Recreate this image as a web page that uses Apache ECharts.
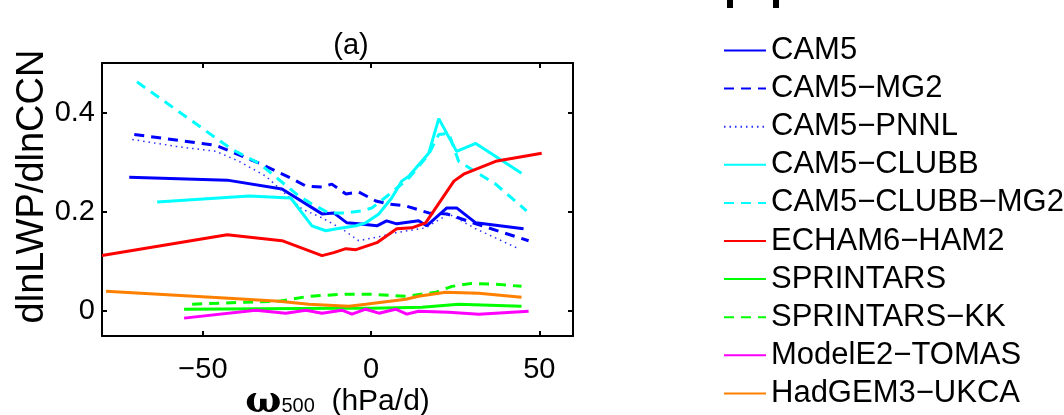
<!DOCTYPE html>
<html>
<head>
<meta charset="utf-8">
<script src="https://cdn.jsdelivr.net/npm/echarts@6/dist/echarts.min.js"></script>
<style>
  html, body { margin: 0; padding: 0; background: #fff; }
  #chart { width: 1064px; height: 415px; }
</style>
</head>
<body>
<div id="chart"></div>
<script>
// omega500 (hPa/d) vs dlnLWP/dlnCCN, one [x, y] list per model
const cam5 = [[-71.9, 0.270], [-42.8, 0.264], [-26.5, 0.246], [-14.6, 0.196], [-11.1, 0.198],
  [-7.2, 0.178], [-3.7, 0.176], [1.7, 0.172], [4.6, 0.182], [7.6, 0.176], [14.1, 0.182],
  [16.5, 0.172], [22.5, 0.208], [25.4, 0.208], [31.1, 0.178], [45.3, 0.166]];
const cam5Mg2 = [[-70.4, 0.356], [-46.1, 0.334], [-33.3, 0.298], [-23.8, 0.268], [-19.4, 0.252],
  [-14.6, 0.250], [-11.7, 0.256], [-7.5, 0.236], [-3.7, 0.240], [1.4, 0.222], [5.3, 0.216],
  [10.3, 0.212], [17.1, 0.198], [22.5, 0.196], [31.1, 0.176], [46.8, 0.142]];
const cam5Pnnl = [[-71.0, 0.346], [-58.0, 0.332], [-46.1, 0.322], [-39.3, 0.302], [-31.3, 0.272],
  [-20.6, 0.206], [-14.6, 0.188], [-8.7, 0.166], [-3.7, 0.142], [2.3, 0.150], [7.3, 0.158],
  [16.2, 0.168], [23.1, 0.196], [31.1, 0.166], [43.8, 0.126]];
const cam5Clubb = [[-63.6, 0.220], [-36.3, 0.232], [-23.9, 0.228], [-17.6, 0.172], [-13.5, 0.162],
  [-10.2, 0.166], [-4.5, 0.172], [-1.6, 0.178], [2.3, 0.196], [6.1, 0.228], [9.1, 0.262],
  [11.2, 0.272], [17.1, 0.318], [20.1, 0.388], [25.4, 0.322], [31.1, 0.338], [44.7, 0.278]];
const cam5ClubbMg2 = [[-69.6, 0.462], [-41.4, 0.326], [-33.3, 0.298], [-21.5, 0.232], [-17.6, 0.216],
  [-12.6, 0.198], [-7.5, 0.198], [-2.8, 0.202], [0.2, 0.208], [4.4, 0.230], [11.2, 0.268],
  [17.1, 0.316], [20.1, 0.356], [23.1, 0.358], [26.0, 0.302], [37.0, 0.256], [46.2, 0.202]];
const echamHam2 = [[-80.0, 0.112], [-42.8, 0.154], [-26.5, 0.142], [-14.6, 0.112], [-11.1, 0.118],
  [-7.5, 0.126], [-4.5, 0.124], [1.7, 0.138], [7.6, 0.166], [12.1, 0.168], [16.2, 0.178],
  [24.6, 0.262], [27.5, 0.276], [37.0, 0.302], [50.7, 0.318]];
const sprintars = [[-55.6, 0.004], [-9.6, 0.006], [0.2, 0.006], [15.1, 0.008], [26.0, 0.014], [44.7, 0.010]];
const sprintarsKk = [[-53.2, 0.014], [-37.2, 0.018], [-27.4, 0.020], [-18.5, 0.030], [-8.7, 0.034],
  [0.2, 0.034], [10.3, 0.030], [19.2, 0.038], [24.0, 0.050], [29.9, 0.056], [37.9, 0.054], [44.7, 0.050]];
const modelE2Tomas = [[-55.6, -0.014], [-34.3, 0.002], [-25.4, -0.004], [-19.4, 0.002], [-14.6, -0.004],
  [-8.7, 0.002], [-5.7, -0.006], [-1.6, 0.004], [2.3, -0.004], [7.3, 0.004], [10.6, -0.006],
  [14.1, 0.000], [23.1, -0.002], [32.0, -0.006], [46.8, 0.000]];
const hadgem3Ukca = [[-78.8, 0.040], [-42.3, 0.026], [-27.4, 0.020], [-18.5, 0.014], [-6.6, 0.010],
  [-1.6, 0.014], [10.3, 0.024], [14.1, 0.030], [22.1, 0.038], [32.0, 0.036], [44.7, 0.028]];

const xTicks = [-50, 0, 50];
const yTicks = [0, 0.2, 0.4];

const models = [
  { name: 'CAM5', data: cam5, color: '#0000ff', type: 'solid', width: 3 },
  { name: 'CAM5−MG2', data: cam5Mg2, color: '#0000ff', type: [10, 7], width: 3 },
  { name: 'CAM5−PNNL', data: cam5Pnnl, color: '#2b2bff', type: [1.5, 4], width: 1.5 },
  { name: 'CAM5−CLUBB', data: cam5Clubb, color: '#00ffff', type: 'solid', width: 3 },
  { name: 'CAM5−CLUBB−MG2', data: cam5ClubbMg2, color: '#00ffff', type: [10, 7], width: 3 },
  { name: 'ECHAM6−HAM2', data: echamHam2, color: '#ff0000', type: 'solid', width: 3 },
  { name: 'SPRINTARS', data: sprintars, color: '#00ff00', type: 'solid', width: 3 },
  { name: 'SPRINTARS−KK', data: sprintarsKk, color: '#00ff00', type: [10, 7], width: 3 },
  { name: 'ModelE2−TOMAS', data: modelE2Tomas, color: '#ff00ff', type: 'solid', width: 3 },
  { name: 'HadGEM3−UKCA', data: hadgem3Ukca, color: '#ff8000', type: 'solid', width: 3 },
];

const chart = echarts.init(document.getElementById('chart'));
const font = 'Liberation Sans, Arial, sans-serif';

const frameLine = { show: true, onZero: false, lineStyle: { color: '#000', width: 2 } };
const inTick = { show: true, inside: true, length: 5, lineStyle: { color: '#000', width: 2 } };

chart.setOption({
  animation: false,
  backgroundColor: '#fff',
  textStyle: { fontFamily: font },
  grid: { left: 102, top: 63, right: 491, bottom: 79, outerBoundsMode: 'none', containLabel: false },
  graphic: [
    { type: 'text', x: 351, y: 46, style: { text: '(a)', font: '29px ' + font, fill: '#000',
      align: 'center', verticalAlign: 'middle' } },
    { type: 'rect', shape: { x: 727, y: 0, width: 6, height: 8 }, style: { fill: '#000' } },
    { type: 'rect', shape: { x: 773, y: 0, width: 6, height: 8 }, style: { fill: '#000' } },
  ],
  legend: {
    orient: 'vertical',
    left: 723,
    top: 35,
    padding: 0,
    height: 400,
    itemWidth: 42,
    itemHeight: 14,
    itemGap: 7.1,
    itemStyle: { opacity: 0 },
    textStyle: { fontSize: 31, lineHeight: 30, color: '#000', fontFamily: font },
    data: models.map(m => m.name),
  },
  xAxis: [
    {
      type: 'value', min: -80, max: 60, position: 'bottom',
      axisLine: frameLine,
      axisTick: Object.assign({ customValues: xTicks }, inTick),
      axisLabel: { customValues: xTicks, color: '#000', fontSize: 29, margin: 19,
        formatter: v => (v < 0 ? '−' + Math.abs(v) : String(v)) },
      splitLine: { show: false },
      name: '{w|ω}{s|500}{n|  (hPa/d)}',
      nameLocation: 'middle',
      nameMoveOverlap: false,
      nameGap: 47,
      nameTextStyle: {
        rich: {
          w: { fontFamily: 'DejaVu Serif, serif', fontWeight: 'bold', fontSize: 38, color: '#000' },
          s: { fontSize: 20, color: '#000', padding: [8, 0, 0, 0] },
          n: { fontSize: 30, color: '#000' },
        },
      },
    },
    {
      type: 'value', min: -80, max: 60, position: 'top',
      axisLine: frameLine,
      axisTick: Object.assign({ customValues: xTicks }, inTick),
      axisLabel: { show: false },
      splitLine: { show: false },
    },
  ],
  yAxis: [
    {
      type: 'value', min: -0.05, max: 0.5, position: 'left',
      axisLine: frameLine,
      axisTick: Object.assign({ customValues: yTicks }, inTick),
      axisLabel: { customValues: yTicks, color: '#000', fontSize: 29, margin: 7,
        formatter: v => (v === 0 ? '0' : v.toFixed(1)) },
      splitLine: { show: false },
      name: 'dlnLWP/dlnCCN',
      nameLocation: 'middle',
      nameMoveOverlap: false,
      nameGap: 50,
      nameTextStyle: { fontSize: 38, color: '#000', padding: [0, 0, 0, 26] },
    },
    {
      type: 'value', min: -0.05, max: 0.5, position: 'right',
      axisLine: frameLine,
      axisTick: Object.assign({ customValues: yTicks }, inTick),
      axisLabel: { show: false },
      splitLine: { show: false },
    },
  ],
  series: models.map(m => ({
    name: m.name,
    type: 'line',
    xAxisIndex: 0,
    yAxisIndex: 0,
    data: m.data,
    symbol: 'none',
    smooth: false,
    lineStyle: { color: m.color, width: m.width, type: m.type },
    itemStyle: { color: m.color },
  })),
});
</script>
</body>
</html>
